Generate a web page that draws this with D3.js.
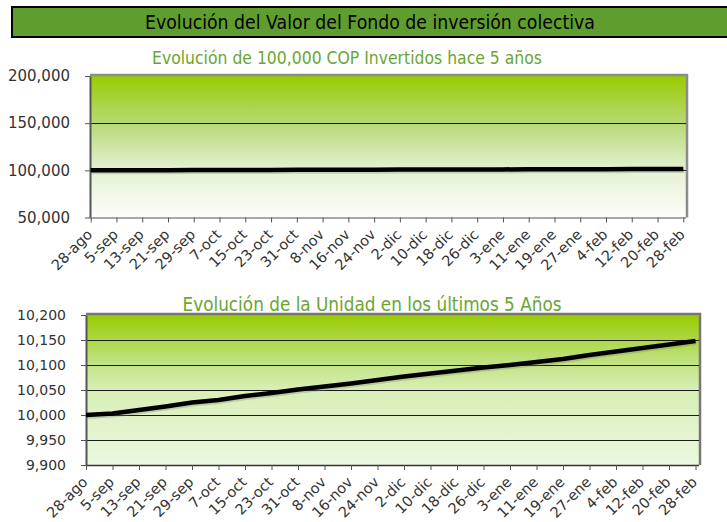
<!DOCTYPE html>
<html>
<head>
<meta charset="utf-8">
<script src="https://cdn.jsdelivr.net/npm/d3@7/dist/d3.min.js"></script>
<style>
  body { margin: 0; background: #fff; }
  svg { display: block; font-family: 'DejaVu Sans', sans-serif; }
</style>
</head>
<body>
<div id="chart"></div>
<script>
const width = 727;
const height = 522;

// fechas del eje x (cada 8 dias)
const fechas = ['28-ago', '5-sep', '13-sep', '21-sep', '29-sep', '7-oct', '15-oct', '23-oct',
    '31-oct', '8-nov', '16-nov', '24-nov', '2-dic', '10-dic', '18-dic', '26-dic', '3-ene',
    '11-ene', '19-ene', '27-ene', '4-feb', '12-feb', '20-feb', '28-feb'];

// valor de 100,000 COP invertidos
const valorInversion = [100000, 100030, 100100, 100170, 100250, 100300, 100380, 100440,
    100510, 100570, 100630, 100700, 100770, 100830, 100890, 100950, 101000,
    101060, 101120, 101200, 101270, 101340, 101410, 101480];

// valor de la unidad
const valorUnidad = [10000, 10003, 10010, 10017, 10025, 10030, 10038, 10044,
    10051, 10057, 10063, 10070, 10077, 10083, 10089, 10095, 10100,
    10106, 10112, 10120, 10127, 10134, 10141, 10148];

const ticksInversion = [50000, 100000, 150000, 200000];
const ticksUnidad = [9900, 9950, 10000, 10050, 10100, 10150, 10200];

const titulo = 'Evolución del Valor del Fondo de inversión colectiva';
const subtitulo1 = 'Evolución de 100,000 COP Invertidos hace 5 años';
const subtitulo2 = 'Evolución de la Unidad en los últimos 5 Años';

const svg = d3.select('#chart').append('svg')
    .attr('width', width)
    .attr('height', height);

const defs = svg.append('defs');

const addGradient = (id, stops) => {
    const grad = defs.append('linearGradient')
        .attr('id', id)
        .attr('x1', 0).attr('y1', 0)
        .attr('x2', 0).attr('y2', 1);
    stops.forEach(([offset, color]) => {
        grad.append('stop').attr('offset', offset).attr('stop-color', color);
    });
};

addGradient('grad1', [['0%', '#99cc00'], ['35%', '#b9da7a'], ['65%', '#e2f1d0'], ['100%', '#fdfefc']]);
addGradient('grad2', [['0%', '#99cc00'], ['30%', '#bfe07c'], ['50%', '#d8efb6'], ['100%', '#ecf8e0']]);

/**
 * Barra de titulo
 */
svg.append('rect')
    .attr('x', 11).attr('y', 6)
    .attr('width', 716).attr('height', 32)
    .attr('fill', '#000');
svg.append('rect')
    .attr('x', 13).attr('y', 8)
    .attr('width', 714).attr('height', 28)
    .attr('fill', '#5f9e2e');
svg.append('text')
    .attr('x', 370).attr('y', 29)
    .attr('text-anchor', 'middle')
    .attr('font-size', 19)
    .attr('textLength', 450)
    .attr('lengthAdjust', 'spacingAndGlyphs')
    .attr('fill', '#000')
    .text(titulo);

/**
 * @desc Dibuja un grafico de linea con fondo degradado
 */
const drawChart = (cfg) => {
    const { left, right, top, bottom, xStart, xEnd, data, domain, ticks, grad, fontSize } = cfg;
    const g = svg.append('g');

    const xScale = d3.scalePoint()
        .domain(fechas)
        .range([xStart, xEnd]);

    const yScale = d3.scaleLinear()
        .domain(domain)
        .range([bottom, top]);

    // fondo
    g.append('rect')
        .attr('x', left).attr('y', top)
        .attr('width', right - left).attr('height', bottom - top)
        .attr('fill', `url(#${grad})`);

    // borde superior y derecho (sombra)
    g.append('path')
        .attr('d', `M${left},${top - 1}H${right + 1}V${bottom}`)
        .attr('fill', 'none')
        .attr('stroke', cfg.borderColor)
        .attr('stroke-width', 2.5);

    // lineas de cuadricula
    g.selectAll('.grid')
        .data(ticks.slice(1, -1))
        .enter()
        .append('line')
        .attr('x1', left).attr('x2', right)
        .attr('y1', d => Math.round(yScale(d)) + 0.5)
        .attr('y2', d => Math.round(yScale(d)) + 0.5)
        .attr('stroke', '#1a1a1a')
        .attr('stroke-width', 1.2);

    // eje y
    const yAxis = g.append('g')
        .attr('transform', `translate(${left}, 0)`)
        .call(d3.axisLeft(yScale).tickValues(ticks).tickSize(5).tickSizeOuter(0)
            .tickFormat(d3.format(',')));
    yAxis.select('.domain').attr('stroke', '#555').attr('stroke-width', 2);
    yAxis.selectAll('.tick line').attr('stroke', '#555');
    yAxis.selectAll('.tick text')
        .attr('font-size', fontSize)
        .attr('font-family', "'DejaVu Sans', sans-serif")
        .attr('fill', '#333')
        .attr('x', -20);

    // eje x
    const xAxis = g.append('g')
        .attr('transform', `translate(0, ${bottom})`)
        .call(d3.axisBottom(xScale).tickSize(5).tickSizeOuter(0));
    xAxis.select('.domain')
        .attr('d', `M${left},0.5H${right}`)
        .attr('stroke', cfg.bottomColor)
        .attr('stroke-width', 1.5);
    xAxis.selectAll('.tick line').attr('stroke', '#555');
    xAxis.selectAll('.tick text')
        .attr('font-size', 14.5)
        .attr('font-family', "'DejaVu Sans', sans-serif")
        .attr('fill', '#333')
        .attr('text-anchor', 'end')
        .attr('x', 0)
        .attr('y', 0)
        .attr('dy', 0)
        .attr('transform', 'translate(2, 18) rotate(-45)');

    const line = d3.line()
        .x((d, i) => xScale(fechas[i]))
        .y(d => yScale(d));

    // sombra de la linea
    g.append('path')
        .datum(data)
        .attr('d', line)
        .attr('transform', 'translate(1, 2)')
        .attr('fill', 'none')
        .attr('stroke', '#777')
        .attr('stroke-opacity', 0.3)
        .attr('stroke-width', 4);

    g.append('path')
        .datum(data)
        .attr('d', line)
        .attr('fill', 'none')
        .attr('stroke', '#000')
        .attr('stroke-width', 4.5)
        .attr('stroke-linejoin', 'round');
};

// subtitulos
svg.append('text')
    .attr('x', 347).attr('y', 64)
    .attr('text-anchor', 'middle')
    .attr('font-size', 18)
    .attr('textLength', 390)
    .attr('lengthAdjust', 'spacingAndGlyphs')
    .attr('fill', '#6aa533')
    .text(subtitulo1);

svg.append('text')
    .attr('x', 372).attr('y', 311)
    .attr('text-anchor', 'middle')
    .attr('font-size', 20)
    .attr('textLength', 379)
    .attr('lengthAdjust', 'spacingAndGlyphs')
    .attr('fill', '#6aa533')
    .text(subtitulo2);

drawChart({
    left: 90, right: 686, top: 76, bottom: 217.5,
    xStart: 90.7, xEnd: 683.3,
    data: valorInversion,
    domain: [50000, 200000],
    ticks: ticksInversion,
    grad: 'grad1',
    fontSize: 15,
    borderColor: '#8c8c8c',
    bottomColor: '#8c8c8c'
});

drawChart({
    left: 86, right: 699, top: 315, bottom: 465,
    xStart: 86, xEnd: 695.5,
    data: valorUnidad,
    domain: [9900, 10200],
    ticks: ticksUnidad,
    grad: 'grad2',
    fontSize: 14,
    borderColor: '#777',
    bottomColor: '#333'
});
</script>
</body>
</html>
